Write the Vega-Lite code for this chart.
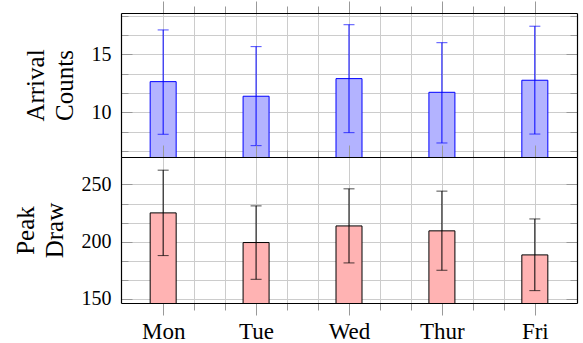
{
  "$schema": "https://vega.github.io/schema/vega-lite/v6.json",
  "padding": {"left": 13, "top": 0, "right": 4, "bottom": 2},
  "config": {
    "font": "Liberation Serif",
    "view": {"stroke": null},
    "axis": {
      "domainColor": "black", "domainWidth": 1.2,
      "gridColor": "#cccccc", "gridWidth": 1,
      "tickColor": "#999999", "tickWidth": 1,
      "labelColor": "black", "titleColor": "black",
      "labelFont": "Liberation Serif", "titleFont": "Liberation Serif",
      "titleFontWeight": "normal", "labelFlush": false, "labelOverlap": false
    }
  },
  "datasets": {
    "days": [
      {"day": "Mon", "idx": 1, "arrival": 12.65, "arr_lo": 8.11, "arr_hi": 17.11, "peak": 225.2, "peak_lo": 187.9, "peak_hi": 262.5},
      {"day": "Tue", "idx": 2, "arrival": 11.39, "arr_lo": 7.13, "arr_hi": 15.67, "peak": 199.3, "peak_lo": 167.2, "peak_hi": 231.3},
      {"day": "Wed", "idx": 3, "arrival": 12.91, "arr_lo": 8.25, "arr_hi": 17.56, "peak": 213.8, "peak_lo": 181.5, "peak_hi": 246.2},
      {"day": "Thur", "idx": 4, "arrival": 11.73, "arr_lo": 7.36, "arr_hi": 16.01, "peak": 209.5, "peak_lo": 175.1, "peak_hi": 244.2},
      {"day": "Fri", "idx": 5, "arrival": 12.77, "arr_lo": 8.13, "arr_hi": 17.43, "peak": 188.5, "peak_lo": 157.3, "peak_hi": 219.9}
    ]
  },
  "data": {"name": "days"},
  "spacing": 0,
  "bounds": "flush",
  "vconcat": [
    {
      "width": 456, "height": 144,
      "layer": [
        {
          "mark": {"type": "bar", "size": 26, "fill": "#b3b3ff", "stroke": "#0000ff", "strokeWidth": 1, "clip": true},
          "encoding": {
            "x": {"field": "idx", "type": "quantitative", "scale": {"domain": [0.6, 5.4], "nice": false, "zero": false},
              "axis": {"orient": "bottom", "values": [1, 1.3333333, 1.6666667, 2, 2.3333333, 2.6666667, 3, 3.3333333, 3.6666667, 4, 4.3333333, 4.6666667, 5],
                "labels": false, "grid": false, "title": null, "zindex": 1,
                "tickSize": {"condition": {"test": "abs(datum.value - round(datum.value)) < 0.01", "value": 12}, "value": 7}}},
            "y": {"field": "arrival", "type": "quantitative", "scale": {"domain": [6.15, 18.57], "nice": false, "zero": false},
              "axis": {"orient": "left", "values": [6.6666667, 8.3333333, 10, 11.6666667, 13.3333333, 15, 16.6666667, 18.3333333],
                "labelExpr": "abs(datum.value/5 - round(datum.value/5)) < 0.01 ? format(datum.value, 'd') : ''",
                "labelFont": "Liberation Serif", "titleFont": "Liberation Serif",
                "labelFontSize": 20, "labelPadding": 21, "grid": false, "zindex": 1,
                "tickSize": {"condition": {"test": "abs(datum.value/5 - round(datum.value/5)) < 0.01", "value": -11}, "value": -7},
                "title": ["Arrival", "Counts"], "titleFontSize": 25, "titleLineHeight": 29, "titlePadding": 14}}
          }
        },
        {
          "mark": {"type": "rule", "color": "#0000ff", "strokeWidth": 1},
          "encoding": {
            "x": {"field": "idx", "type": "quantitative",
              "axis": {"orient": "top", "values": [1, 1.3333333, 1.6666667, 2, 2.3333333, 2.6666667, 3, 3.3333333, 3.6666667, 4, 4.3333333, 4.6666667, 5],
                "labels": false, "grid": true, "title": null, "zindex": 0,
                "tickSize": {"condition": {"test": "abs(datum.value - round(datum.value)) < 0.01", "value": 12}, "value": 7}}},
            "y": {"field": "arr_lo", "type": "quantitative",
              "axis": {"orient": "right", "values": [6.6666667, 8.3333333, 10, 11.6666667, 13.3333333, 15, 16.6666667, 18.3333333],
                "labels": false, "grid": true, "title": null, "zindex": 0,
                "tickSize": {"condition": {"test": "abs(datum.value/5 - round(datum.value/5)) < 0.01", "value": -11}, "value": -7}}},
            "y2": {"field": "arr_hi"}
          }
        },
        {
          "mark": {"type": "tick", "orient": "horizontal", "size": 11, "thickness": 1, "color": "#0000ff"},
          "encoding": {
            "x": {"field": "idx", "type": "quantitative", "axis": null},
            "y": {"field": "arr_hi", "type": "quantitative", "axis": null}
          }
        },
        {
          "mark": {"type": "tick", "orient": "horizontal", "size": 11, "thickness": 1, "color": "#0000ff"},
          "encoding": {
            "x": {"field": "idx", "type": "quantitative", "axis": null},
            "y": {"field": "arr_lo", "type": "quantitative", "axis": null}
          }
        }
      ],
      "resolve": {"axis": {"x": "independent", "y": "independent"}}
    },
    {
      "width": 456, "height": 146,
      "layer": [
        {
          "mark": {"type": "bar", "size": 26, "fill": "#ffb3b3", "stroke": "black", "strokeWidth": 1, "clip": true},
          "encoding": {
            "x": {"field": "idx", "type": "quantitative", "scale": {"domain": [0.6, 5.4], "nice": false, "zero": false},
              "axis": {"orient": "bottom", "values": [1, 1.3333333, 1.6666667, 2, 2.3333333, 2.6666667, 3, 3.3333333, 3.6666667, 4, 4.3333333, 4.6666667, 5],
                "labelExpr": "abs(datum.value - round(datum.value)) < 0.01 ? ['Mon','Tue','Wed','Thur','Fri'][round(datum.value) - 1] : ''",
                "labelFont": "Liberation Serif",
                "labelFontSize": 23, "labelPadding": 5, "grid": false, "title": null, "zindex": 1,
                "tickSize": {"condition": {"test": "abs(datum.value - round(datum.value)) < 0.01", "value": 12}, "value": 7}}},
            "y": {"field": "peak", "type": "quantitative", "scale": {"domain": [146.5, 274], "nice": false, "zero": false},
              "axis": {"orient": "left", "values": [150, 166.666667, 183.333333, 200, 216.666667, 233.333333, 250],
                "labelExpr": "abs(datum.value/50 - round(datum.value/50)) < 0.01 ? format(datum.value, 'd') : ''",
                "labelFont": "Liberation Serif", "titleFont": "Liberation Serif",
                "labelFontSize": 20, "labelPadding": 21, "grid": false, "zindex": 1,
                "tickSize": {"condition": {"test": "abs(datum.value/50 - round(datum.value/50)) < 0.01", "value": -11}, "value": -7},
                "title": ["Peak", "Draw"], "titleFontSize": 25, "titleLineHeight": 29, "titlePadding": 14}}
          }
        },
        {
          "mark": {"type": "rule", "color": "black", "strokeWidth": 1},
          "encoding": {
            "x": {"field": "idx", "type": "quantitative",
              "axis": {"orient": "top", "values": [1, 1.3333333, 1.6666667, 2, 2.3333333, 2.6666667, 3, 3.3333333, 3.6666667, 4, 4.3333333, 4.6666667, 5],
                "labels": false, "grid": true, "title": null, "zindex": 0,
                "tickSize": {"condition": {"test": "abs(datum.value - round(datum.value)) < 0.01", "value": 12}, "value": 7}}},
            "y": {"field": "peak_lo", "type": "quantitative",
              "axis": {"orient": "right", "values": [150, 166.666667, 183.333333, 200, 216.666667, 233.333333, 250],
                "labels": false, "grid": true, "title": null, "zindex": 0,
                "tickSize": {"condition": {"test": "abs(datum.value/50 - round(datum.value/50)) < 0.01", "value": -11}, "value": -7}}},
            "y2": {"field": "peak_hi"}
          }
        },
        {
          "mark": {"type": "tick", "orient": "horizontal", "size": 11, "thickness": 1, "color": "black"},
          "encoding": {
            "x": {"field": "idx", "type": "quantitative", "axis": null},
            "y": {"field": "peak_hi", "type": "quantitative", "axis": null}
          }
        },
        {
          "mark": {"type": "tick", "orient": "horizontal", "size": 11, "thickness": 1, "color": "black"},
          "encoding": {
            "x": {"field": "idx", "type": "quantitative", "axis": null},
            "y": {"field": "peak_lo", "type": "quantitative", "axis": null}
          }
        }
      ],
      "resolve": {"axis": {"x": "independent", "y": "independent"}}
    }
  ]
}
